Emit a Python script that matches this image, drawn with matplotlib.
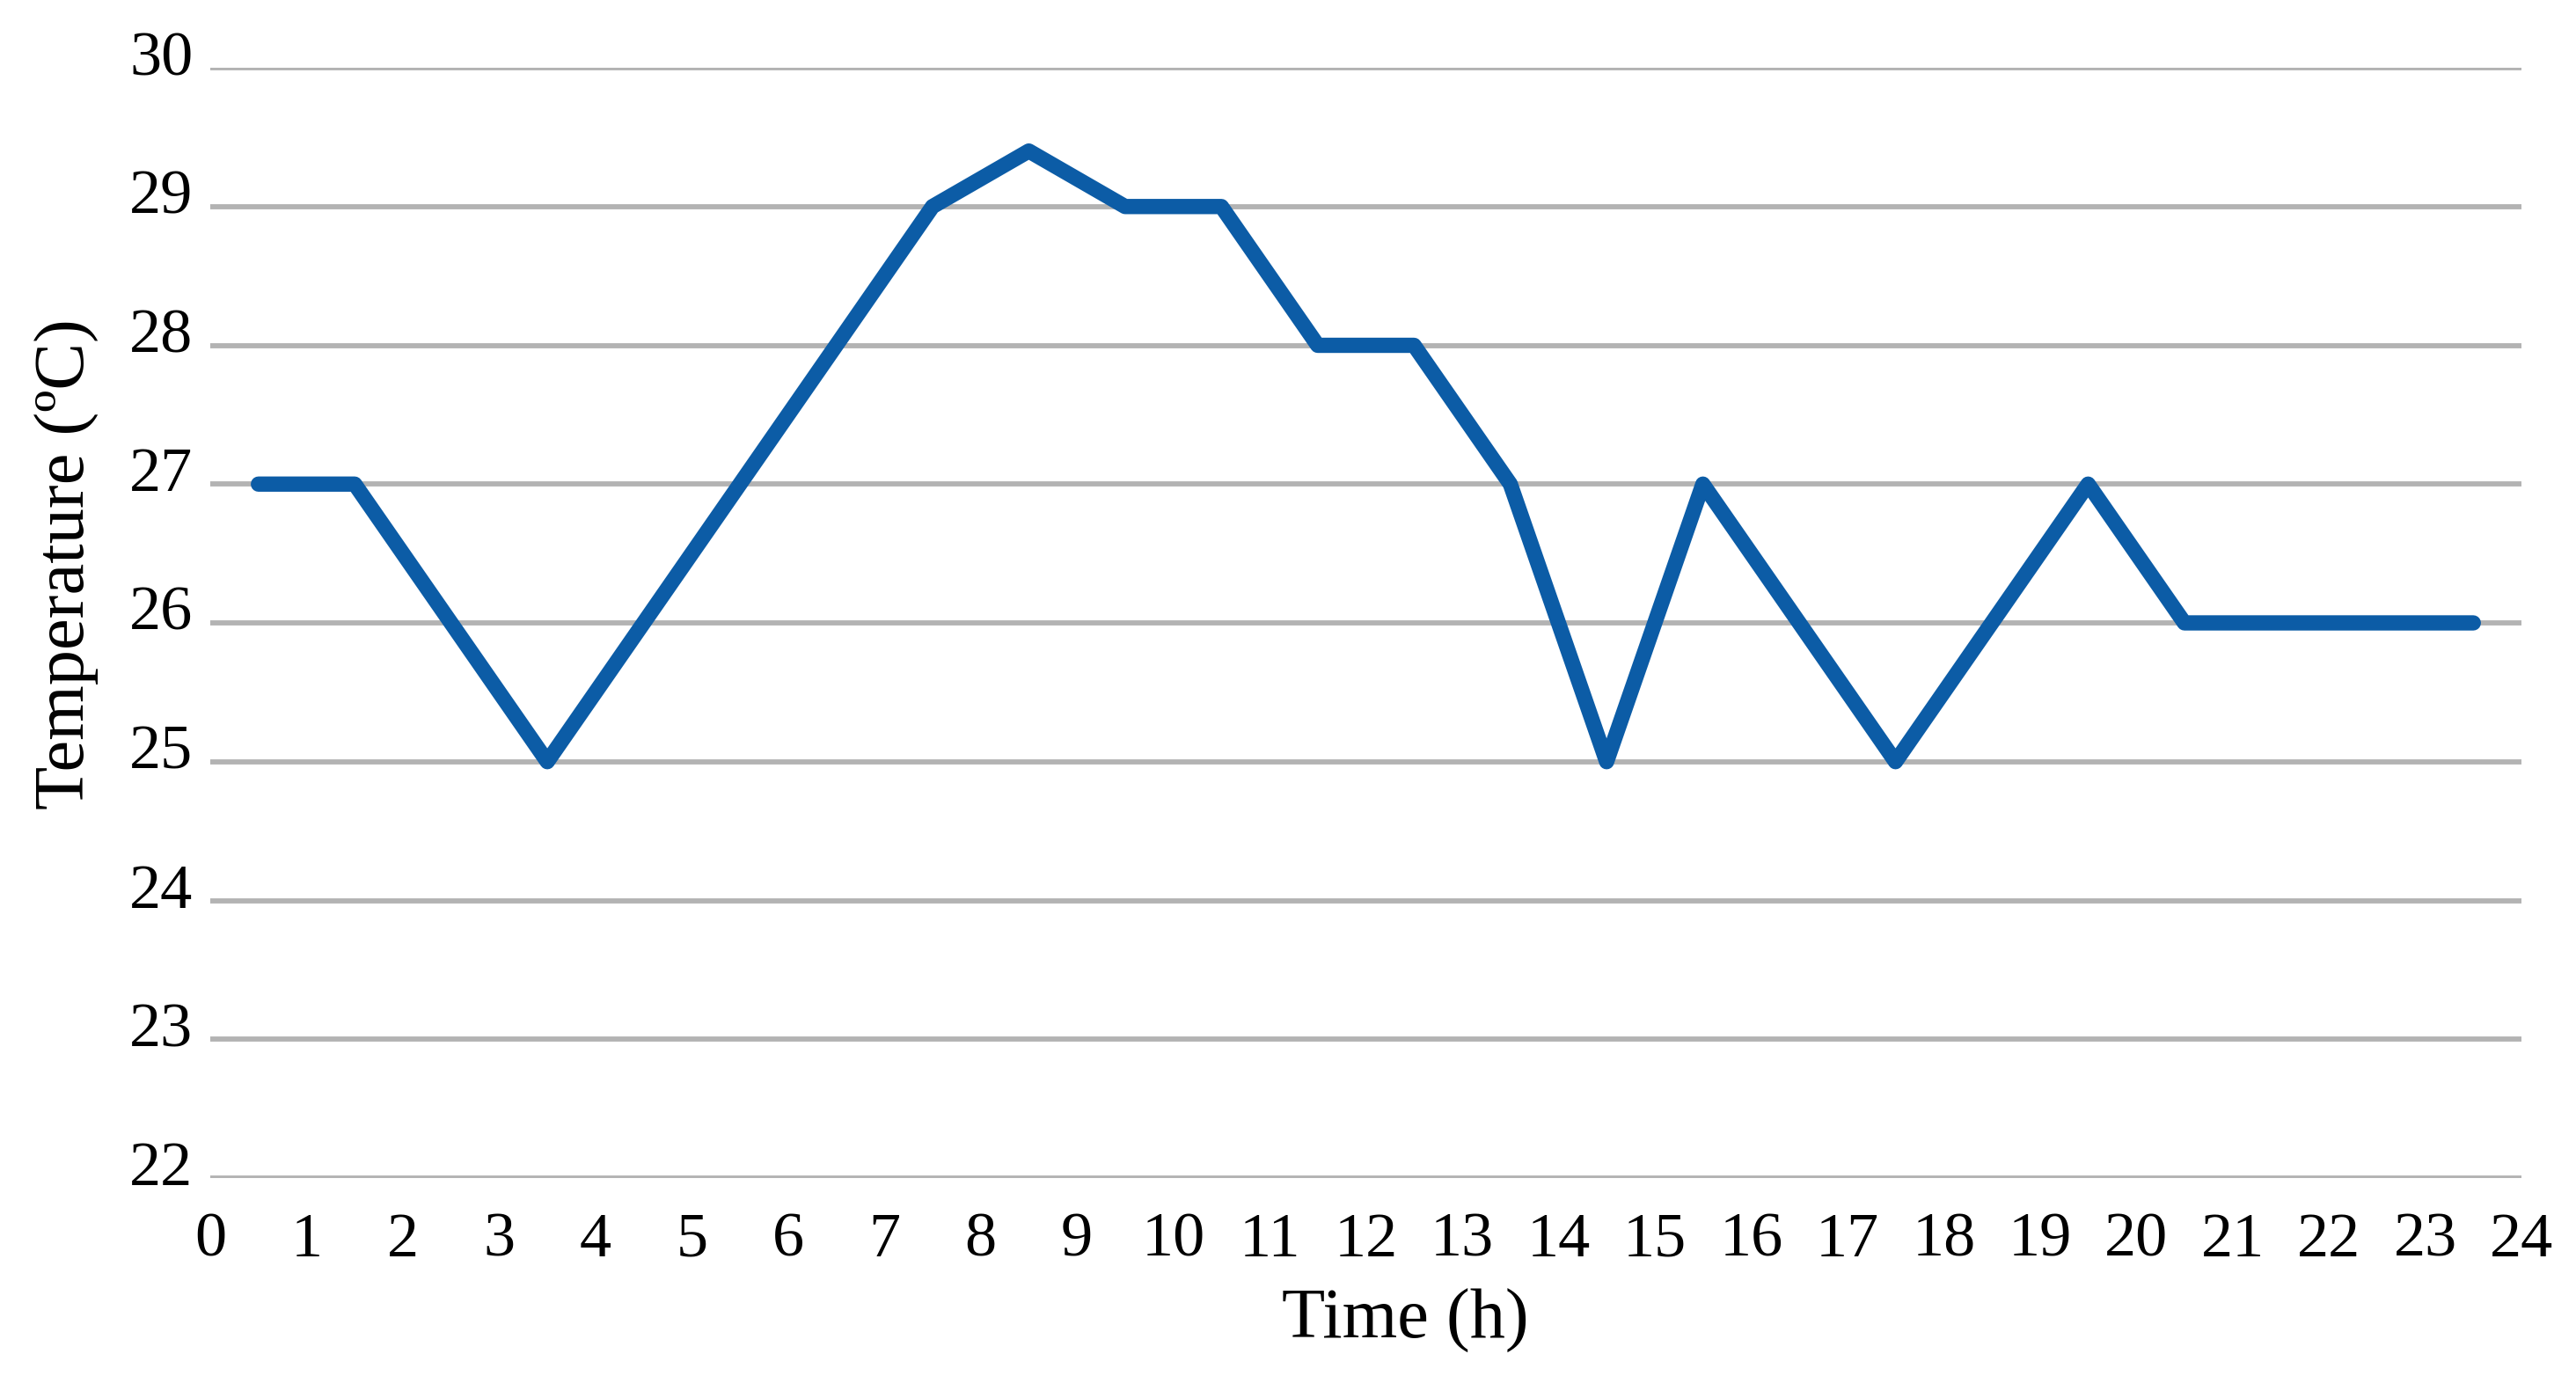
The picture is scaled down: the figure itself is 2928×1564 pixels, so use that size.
import matplotlib
matplotlib.use("Agg")
import matplotlib.pyplot as plt
import matplotlib.transforms as mtransforms

hours = [0.5, 1.5, 2.5, 3.5, 4.5, 5.5, 6.5, 7.5, 8.5, 9.5, 10.5, 11.5,
         12.5, 13.5, 14.5, 15.5, 16.5, 17.5, 18.5, 19.5, 20.5, 21.5, 22.5, 23.5]
temperature = [27, 27, 26, 25, 26, 27, 28, 29, 29.4, 29, 29, 28,
               28, 27, 25, 27, 26, 25, 26, 27, 26, 26, 26, 26]
x_ticks = list(range(0, 25))
y_ticks = [22, 23, 24, 25, 26, 27, 28, 29, 30]

plt.rcParams['font.family'] = ['Liberation Serif', 'DejaVu Serif']

W, H = 2928, 1564
fig = plt.figure(figsize=(W / 100, H / 100), dpi=100)
left, right, top, bottom = 239, 2866, 77, 1339
ax = fig.add_axes([left / W, 1 - bottom / H, (right - left) / W, (bottom - top) / H])

ax.plot(hours, temperature, color='#0C5CA6', lw=12.5, solid_joinstyle='round',
        solid_capstyle='round', zorder=3)

ax.set_xlim(0, 24)
ax.set_ylim(22, 30)
ax.set_xticks(x_ticks)
ax.set_xticklabels([str(t) for t in x_ticks])
ax.set_yticks(y_ticks)
ax.set_yticklabels([str(t) for t in y_ticks])

for s in ax.spines.values():
    s.set_visible(False)
ax.grid(axis='y', color='#b3b3b3', lw=4.2, zorder=1)
ax.set_axisbelow(True)
ax.tick_params(axis='both', length=0, labelsize=52, colors='black')
ax.tick_params(axis='x', pad=28)
ax.tick_params(axis='y', pad=14)
for lab in ax.get_yticklabels():
    lab.set_transform(lab.get_transform() + mtransforms.ScaledTranslation(0, 0.17, fig.dpi_scale_trans))

ax.set_xlabel('Time (h)', fontsize=58)
ax.xaxis.set_label_coords(0.517, -0.10)
ax.set_ylabel('Temperature (ºC)', fontsize=58)
ax.yaxis.set_label_coords(-0.048, 0.553)

fig.savefig('out.png', dpi=100, facecolor='white')
